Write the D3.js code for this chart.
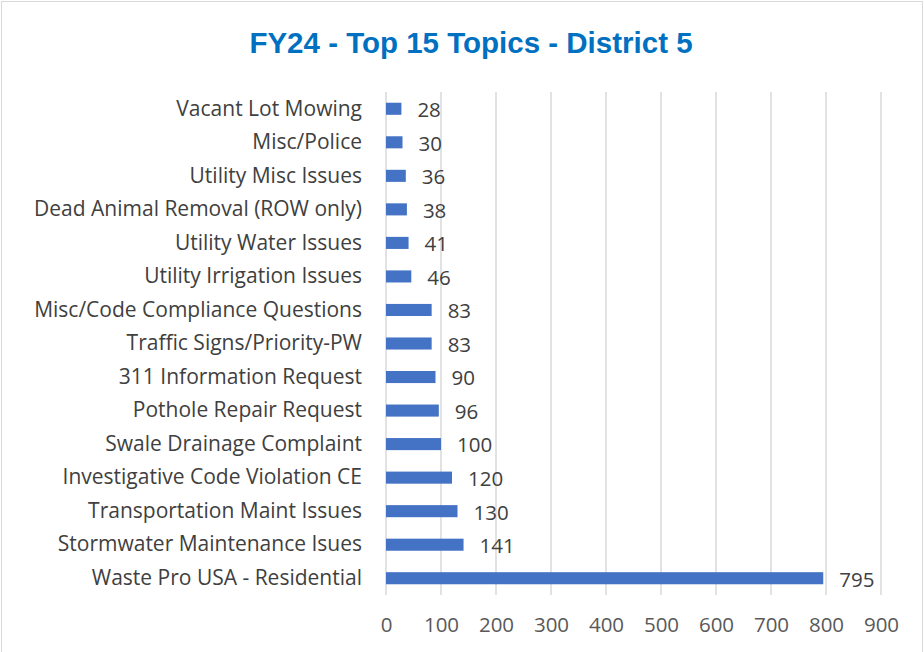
<!DOCTYPE html>
<html>
<head>
<meta charset="utf-8">
<script src="https://d3js.org/d3.v7.min.js"></script>
<style>
  body { margin: 0; background: #fff; }
</style>
</head>
<body>
<div id="my_dataviz"></div>
<script>
// data, top to bottom as shown
var topics = ["Vacant Lot Mowing", "Misc/Police", "Utility Misc Issues", "Dead Animal Removal (ROW only)",
  "Utility Water Issues", "Utility Irrigation Issues", "Misc/Code Compliance Questions",
  "Traffic Signs/Priority-PW", "311 Information Request", "Pothole Repair Request",
  "Swale Drainage Complaint", "Investigative Code Violation CE", "Transportation Maint Issues",
  "Stormwater Maintenance Isues", "Waste Pro USA - Residential"];
var counts = [28, 30, 36, 38, 41, 46, 83, 83, 90, 96, 100, 120, 130, 141, 795];
var xTicks = [0, 100, 200, 300, 400, 500, 600, 700, 800, 900];
var title = "FY24 - Top 15 Topics - District 5";

var width = 924, height = 652;
var margin = {top: 92, right: 43, bottom: 57, left: 386};

var svg = d3.select("#my_dataviz")
  .append("svg")
    .attr("width", width)
    .attr("height", height);

// chart border
svg.append("rect")
  .attr("x", 1.5).attr("y", 1.5)
  .attr("width", width - 3).attr("height", height + 10)
  .attr("fill", "none")
  .attr("stroke", "#d9d9d9")
  .attr("stroke-width", 1);

svg.append("text")
  .attr("x", 471)
  .attr("y", 53)
  .attr("text-anchor", "middle")
  .style("font-family", "'Liberation Sans', Arial, sans-serif")
  .style("font-weight", "bold")
  .style("font-size", "29.5px")
  .style("fill", "#0070C0")
  .text(title);

var x = d3.scaleLinear()
  .domain([0, 900])
  .range([margin.left, width - margin.right]);

var y = d3.scaleBand()
  .domain(topics)
  .range([margin.top, height - margin.bottom])
  .paddingInner(0.64)
  .paddingOuter(0.32);

// gridlines
svg.append("g")
  .selectAll("line")
  .data(xTicks)
  .enter()
  .append("line")
    .attr("x1", function(d) { return x(d); })
    .attr("x2", function(d) { return x(d); })
    .attr("y1", margin.top)
    .attr("y2", height - margin.bottom)
    .attr("stroke", "#d9d9d9")
    .attr("stroke-width", 1.5);

// bars
svg.append("g")
  .selectAll("rect")
  .data(counts)
  .enter()
  .append("rect")
    .attr("x", x(0))
    .attr("y", function(d, i) { return y(topics[i]); })
    .attr("width", function(d) { return x(d) - x(0); })
    .attr("height", y.bandwidth())
    .attr("fill", "#4472C4");

// value labels
svg.append("g")
  .selectAll("text")
  .data(counts)
  .enter()
  .append("text")
    .attr("x", function(d) { return x(d) + 16; })
    .attr("y", function(d, i) { return y(topics[i]) + y.bandwidth() / 2 + 1; })
    .attr("dy", "0.36em")
    .style("font-family", "'Open Sans', sans-serif")
    .style("font-size", "20.5px")
    .style("fill", "#404040")
    .text(function(d) { return d; });

// category labels
var yAxis = svg.append("g")
  .attr("transform", "translate(" + (margin.left - 24) + ",0)")
  .call(d3.axisLeft(y).tickSize(0).tickPadding(0));
yAxis.select(".domain").remove();
yAxis.selectAll("text")
  .style("font-family", "'Open Sans', sans-serif")
  .style("font-size", "21px")
  .style("fill", "#404040");

// x axis labels
var xAxis = svg.append("g")
  .attr("transform", "translate(0," + (height - margin.bottom) + ")")
  .call(d3.axisBottom(x).tickValues(xTicks).tickSize(0).tickPadding(22));
xAxis.select(".domain").remove();
xAxis.selectAll("text")
  .style("font-family", "'Open Sans', sans-serif")
  .style("font-size", "20.5px")
  .style("fill", "#595959");
</script>
</body>
</html>
